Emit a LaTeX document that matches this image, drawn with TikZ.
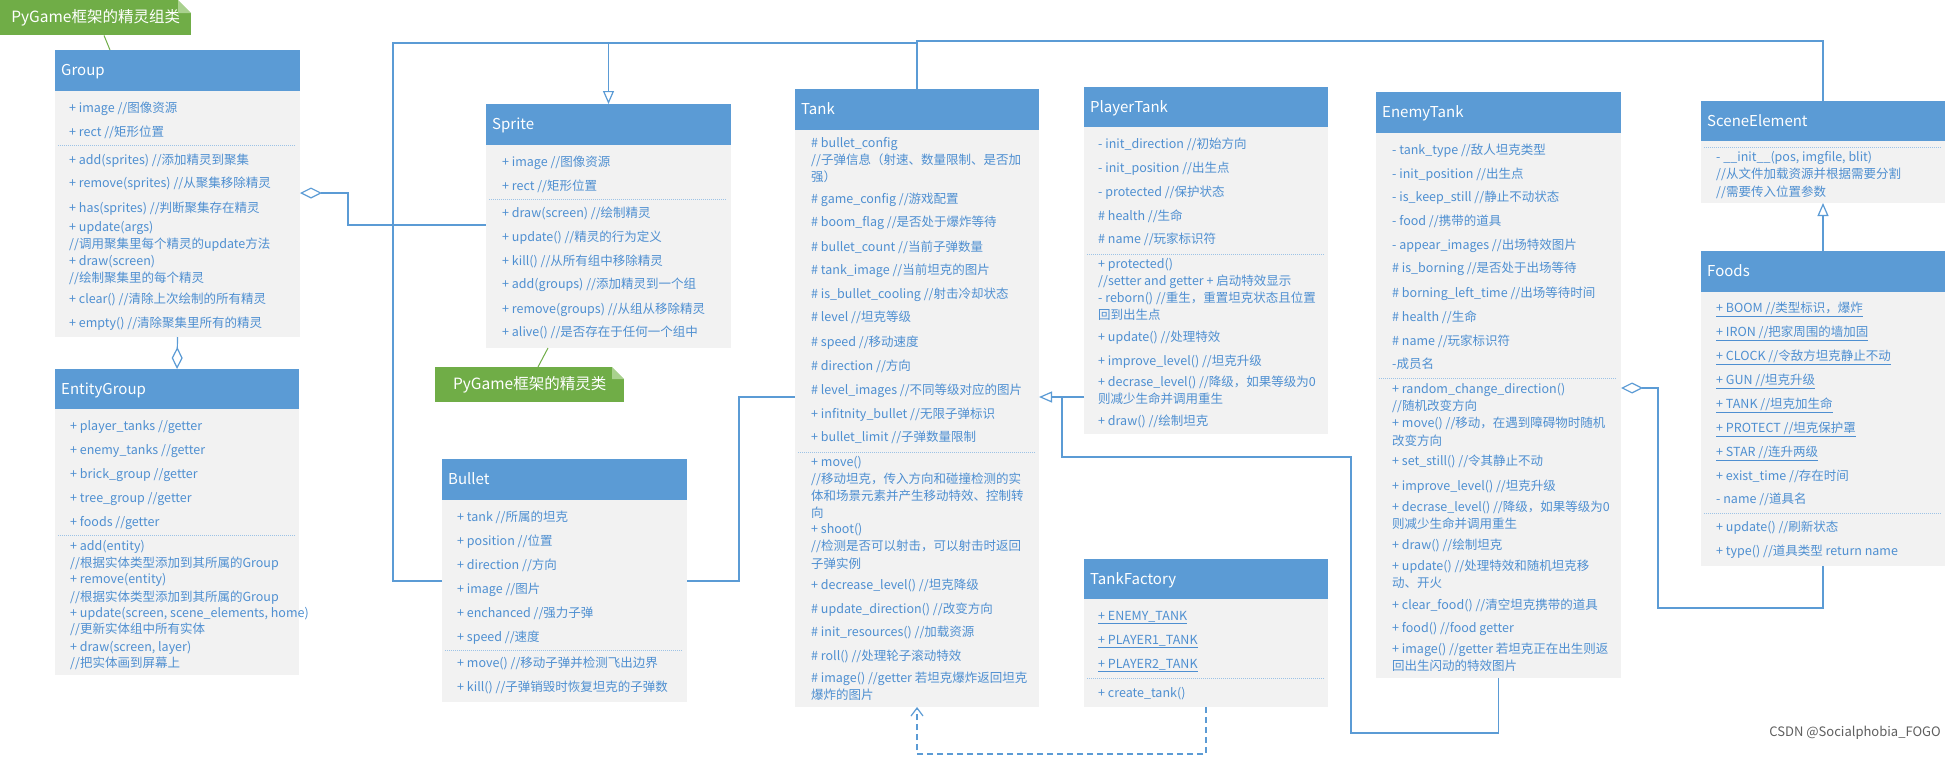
\documentclass[tikz,border=0pt]{standalone}
\usepackage{fontspec}
\setmainfont{Noto Sans CJK SC}
\usetikzlibrary{arrows.meta}
\definecolor{hdr}{HTML}{5B9BD5}
\definecolor{bodyc}{HTML}{F2F2F2}
\definecolor{txt}{HTML}{4E8FD1}
\definecolor{lnc}{HTML}{5B9BD5}
\definecolor{sepc}{HTML}{9DC3E6}
\definecolor{notec}{HTML}{70AD47}
\definecolor{notefold}{HTML}{A9D18E}
\definecolor{wmc}{HTML}{5F5F5F}
\tikzset{
  classbody/.style={anchor=north west, fill=bodyc, inner sep=0pt, outer sep=0pt, draw=none},
  titlet/.style={anchor=west, inner sep=0pt, text height=11pt, text depth=0.5pt, font=\fontsize{15}{18}\selectfont, text=white},
  rowt/.style={anchor=west, inner sep=0pt, text height=9.5pt, text depth=0.5pt, font=\fontsize{12.5}{15}\selectfont, text=txt},
  sepst/.style={draw=sepc, line width=1pt, densely dotted},
  conn/.style={draw=lnc, line width=1.2pt},
  depst/.style={draw=lnc, line width=1.2pt, dash pattern=on 6pt off 4pt},
  notebox/.style={anchor=north west, fill=notec, draw=none, inner sep=0pt, text=white, font=\fontsize{15.5}{18}\selectfont},
  noteline/.style={draw=notec, line width=1pt},
  gen/.tip={Triangle[length=13pt, width=11pt, fill=white, line width=1.2pt]},
  agg/.tip={Diamond[length=22pt, width=11pt, fill=white, line width=1.2pt]},
  dep/.tip={Straight Barb[length=8pt, width=12pt, line width=1.2pt]}
}
\newcommand\umlcls[7]{%
  \node[classbody, minimum width={#4pt-#2pt}, minimum height={#5pt-#3pt}] (#1) at (#2,#3) {};
  \fill[hdr] (#2,#3) rectangle (#4,#6);
  \node[titlet] (#1-title) at ({#2+6},{(#3+#6)/2}) {#7};
}
\newcommand\rw[3]{\node[rowt] at (#1,#2) {#3};}
\newcommand\sepl[3]{\draw[sepst] (#1,#3) -- (#2,#3);}
\begin{document}
\begin{tikzpicture}[x=1pt,y=-1pt]
\fill[white] (0,0) rectangle (1947,756);
\useasboundingbox (0,0) rectangle (1947,756);

% ---------- Group ----------
\umlcls{group}{55}{50}{300}{337}{91}{Group}
\rw{69}{108}{+ image //图像资源}
\rw{69}{132}{+ rect //矩形位置}
\sepl{58}{296}{145}
\rw{69}{160}{+ add(sprites) //添加精灵到聚集}
\rw{69}{183}{+ remove(sprites) //从聚集移除精灵}
\rw{69}{208}{+ has(sprites) //判断聚集存在精灵}
\rw{69}{227}{+ update(args)}
\rw{69}{244}{//调用聚集里每个精灵的update方法}
\rw{69}{261}{+ draw(screen)}
\rw{69}{278}{//绘制聚集里的每个精灵}
\rw{69}{299}{+ clear() //清除上次绘制的所有精灵}
\rw{69}{323}{+ empty() //清除聚集里所有的精灵}

% ---------- EntityGroup ----------
\umlcls{entity}{55}{369}{299}{675}{409}{EntityGroup}
\rw{70}{426}{+ player\_tanks //getter}
\rw{70}{450}{+ enemy\_tanks //getter}
\rw{70}{474}{+ brick\_group //getter}
\rw{70}{498}{+ tree\_group //getter}
\rw{70}{522}{+ foods //getter}
\sepl{58}{295}{535}
\rw{70}{546}{+ add(entity)}
\rw{70}{563}{//根据实体类型添加到其所属的Group}
\rw{70}{579}{+ remove(entity)}
\rw{70}{597}{//根据实体类型添加到其所属的Group}
\rw{70}{613}{+ update(screen, scene\_elements, home)}
\rw{70}{629}{//更新实体组中所有实体}
\rw{70}{647}{+ draw(screen, layer)}
\rw{70}{663}{//把实体画到屏幕上}

% ---------- Sprite ----------
\umlcls{sprite}{486}{104}{731}{348}{145}{Sprite}
\rw{502}{162}{+ image //图像资源}
\rw{502}{186}{+ rect //矩形位置}
\sepl{489}{727}{199}
\rw{502}{213}{+ draw(screen) //绘制精灵}
\rw{502}{237}{+ update() //精灵的行为定义}
\rw{502}{261}{+ kill() //从所有组中移除精灵}
\rw{502}{284}{+ add(groups) //添加精灵到一个组}
\rw{502}{309}{+ remove(groups) //从组从移除精灵}
\rw{502}{332}{+ alive() //是否存在于任何一个组中}

% ---------- Bullet ----------
\umlcls{bullet}{442}{459}{687}{702}{500}{Bullet}
\rw{457}{517}{+ tank //所属的坦克}
\rw{457}{541}{+ position //位置}
\rw{457}{565}{+ direction //方向}
\rw{457}{589}{+ image //图片}
\rw{457}{613}{+ enchanced //强力子弹}
\rw{457}{637}{+ speed //速度}
\sepl{445}{683}{650}
\rw{457}{663}{+ move() //移动子弹并检测飞出边界}
\rw{457}{687}{+ kill() //子弹销毁时恢复坦克的子弹数}

% ---------- Tank ----------
\umlcls{tank}{795}{89}{1039}{707}{130}{Tank}
\rw{811}{143}{\# bullet\_config}
\rw{811}{160}{//子弹信息（射速、数量限制、是否加}
\rw{811}{177}{强）}
\rw{811}{199}{\# game\_config //游戏配置}
\rw{811}{222}{\# boom\_flag //是否处于爆炸等待}
\rw{811}{247}{\# bullet\_count //当前子弹数量}
\rw{811}{270}{\# tank\_image //当前坦克的图片}
\rw{811}{294}{\# is\_bullet\_cooling //射击冷却状态}
\rw{811}{317}{\# level //坦克等级}
\rw{811}{342}{\# speed //移动速度}
\rw{811}{366}{\# direction //方向}
\rw{811}{390}{\# level\_images //不同等级对应的图片}
\rw{811}{414}{+ infitnity\_bullet //无限子弹标识}
\rw{811}{437}{+ bullet\_limit //子弹数量限制}
\sepl{798}{1035}{452}
\rw{811}{462}{+ move()}
\rw{811}{479}{//移动坦克，传入方向和碰撞检测的实}
\rw{811}{496}{体和场景元素并产生移动特效、控制转}
\rw{811}{513}{向}
\rw{811}{529}{+ shoot()}
\rw{811}{546}{//检测是否可以射击，可以射击时返回}
\rw{811}{564}{子弹实例}
\rw{811}{585}{+ decrease\_level() //坦克降级}
\rw{811}{609}{\# update\_direction() //改变方向}
\rw{811}{632}{\# init\_resources() //加载资源}
\rw{811}{656}{\# roll() //处理轮子滚动特效}
\rw{811}{678}{\# image() //getter 若坦克爆炸返回坦克}
\rw{811}{695}{爆炸的图片}

% ---------- PlayerTank ----------
\umlcls{player}{1084}{87}{1328}{434}{127}{PlayerTank}
\rw{1098}{144}{- init\_direction //初始方向}
\rw{1098}{168}{- init\_position //出生点}
\rw{1098}{192}{- protected //保护状态}
\rw{1098}{216}{\# health //生命}
\rw{1098}{239}{\# name //玩家标识符}
\sepl{1087}{1325}{254}
\rw{1098}{264}{+ protected()}
\rw{1098}{281}{//setter and getter + 启动特效显示}
\rw{1098}{298}{- reborn() //重生，重置坦克状态且位置}
\rw{1098}{315}{回到出生点}
\rw{1098}{337}{+ update() //处理特效}
\rw{1098}{361}{+ improve\_level() //坦克升级}
\rw{1098}{382}{+ decrase\_level() //降级，如果等级为0}
\rw{1098}{399}{则减少生命并调用重生}
\rw{1098}{421}{+ draw() //绘制坦克}

% ---------- TankFactory ----------
\umlcls{factory}{1084}{559}{1328}{707}{599}{TankFactory}
\rw{1098}{616}{\underline{+ ENEMY\_TANK}}
\rw{1098}{640}{\underline{+ PLAYER1\_TANK}}
\rw{1098}{664}{\underline{+ PLAYER2\_TANK}}
\sepl{1087}{1325}{678}
\rw{1098}{693}{+ create\_tank()}

% ---------- EnemyTank ----------
\umlcls{enemy}{1376}{92}{1621}{678}{133}{EnemyTank}
\rw{1392}{150}{- tank\_type //敌人坦克类型}
\rw{1392}{174}{- init\_position //出生点}
\rw{1392}{197}{- is\_keep\_still //静止不动状态}
\rw{1392}{221}{- food //携带的道具}
\rw{1392}{245}{- appear\_images //出场特效图片}
\rw{1392}{268}{\# is\_borning //是否处于出场等待}
\rw{1392}{293}{\# borning\_left\_time //出场等待时间}
\rw{1392}{317}{\# health //生命}
\rw{1392}{341}{\# name //玩家标识符}
\rw{1392}{364}{-成员名}
\sepl{1379}{1617}{378}
\rw{1392}{389}{+ random\_change\_direction()}
\rw{1392}{406}{//随机改变方向}
\rw{1392}{423}{+ move() //移动，在遇到障碍物时随机}
\rw{1392}{441}{改变方向}
\rw{1392}{461}{+ set\_still() //令其静止不动}
\rw{1392}{486}{+ improve\_level() //坦克升级}
\rw{1392}{507}{+ decrase\_level() //降级，如果等级为0}
\rw{1392}{524}{则减少生命并调用重生}
\rw{1392}{545}{+ draw() //绘制坦克}
\rw{1392}{566}{+ update() //处理特效和随机坦克移}
\rw{1392}{583}{动、开火}
\rw{1392}{605}{+ clear\_food() //清空坦克携带的道具}
\rw{1392}{628}{+ food() //food getter}
\rw{1392}{649}{+ image() //getter 若坦克正在出生则返}
\rw{1392}{666}{回出生闪动的特效图片}

% ---------- SceneElement ----------
\umlcls{scene}{1701}{101}{1945}{203}{141}{SceneElement}
\sepl{1704}{1941}{147}
\rw{1716}{157}{- \_\_init\_\_(pos, imgfile, blit)}
\rw{1716}{174}{//从文件加载资源并根据需要分割}
\rw{1716}{192}{//需要传入位置参数}

% ---------- Foods ----------
\umlcls{foods}{1701}{251}{1945}{566}{292}{Foods}
\rw{1716}{308}{\underline{+ BOOM //类型标识，爆炸}}
\rw{1716}{332}{\underline{+ IRON //把家周围的墙加固}}
\rw{1716}{356}{\underline{+ CLOCK //令敌方坦克静止不动}}
\rw{1716}{380}{\underline{+ GUN //坦克升级}}
\rw{1716}{404}{\underline{+ TANK //坦克加生命}}
\rw{1716}{428}{\underline{+ PROTECT //坦克保护罩}}
\rw{1716}{452}{\underline{+ STAR //连升两级}}
\rw{1716}{476}{+ exist\_time //存在时间}
\rw{1716}{499}{- name //道具名}
\sepl{1704}{1941}{513}
\rw{1716}{527}{+ update() //刷新状态}
\rw{1716}{551}{+ type() //道具类型 return name}

% ---------- notes ----------
\node[notebox, minimum width=191pt, minimum height=35pt] (note1) at (0,0) {PyGame框架的精灵组类};
\fill[white] (178,0) -- (191,0) -- (191,13) -- cycle;
\fill[notefold] (178,0) -- (178,13) -- (191,13) -- cycle;
\draw[noteline] (note1.south -| 104,0) -- (group.north -| 110,0);

\node[notebox, minimum width=189pt, minimum height=35pt] (note2) at (435,367) {PyGame框架的精灵类};
\fill[white] (612,367) -- (624,367) -- (624,379) -- cycle;
\fill[notefold] (612,367) -- (612,379) -- (624,379) -- cycle;
\draw[noteline] (note2.north -| 538,0) -- (sprite.south -| 548,0);

% ---------- connectors ----------
% generalizations to Sprite
\draw[conn] (bullet.west |- 0,581) -| (393,43) -- (tank.north |- 0,43);
\draw[conn, -gen] (sprite.north |- 0,43) -- (sprite.north);
\draw[conn] (tank.north) -- (tank.north |- 0,41) -| (scene.north);
% Group aggregation with Sprite
\draw[conn, agg-] (group.east |- 0,193) -- (348,193) |- (sprite.west |- 0,225);
% EntityGroup to Group
\draw[conn, -agg] (group.south) -- (entity.north);
% Bullet to Tank
\draw[conn] (bullet.east |- 0,581) -- (739,581) |- (tank.west |- 0,397);
% PlayerTank / EnemyTank generalization to Tank
\draw[conn, -gen] (player.west |- 0,397) -- (tank.east |- 0,397);
\draw[conn] (enemy.south) |- (1351,733) |- (1062,457) -- (1062,397);
% Foods aggregation with EnemyTank
\draw[conn, -agg] (foods.south) |- (1658,608) |- (enemy.east |- 0,388);
% Foods generalization to SceneElement
\draw[conn, -gen] (foods.north) -- (scene.south);
% TankFactory dependency to Tank
\draw[depst, -dep] (factory.south) |- (tank.south |- 0,754) -- (tank.south);

% ---------- watermark ----------
\node[anchor=east, inner sep=0pt, text=wmc, font=\fontsize{13}{15}\selectfont] (wm) at (1941,733) {CSDN @Socialphobia\_FOGO};
\end{tikzpicture}
\end{document}
